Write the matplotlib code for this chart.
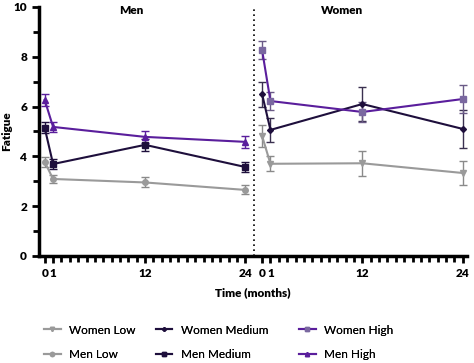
import matplotlib
matplotlib.use("Agg")
import matplotlib.pyplot as plt
from matplotlib.ticker import MultipleLocator, FixedLocator
from matplotlib.lines import Line2D

plt.rcParams['font.family'] = ['Lato', 'DejaVu Sans']

months = [0, 1, 12, 24]
women_offset = 26

men_low = [3.77, 3.09, 2.95, 2.65]
men_low_err = [0.2, 0.15, 0.2, 0.18]
men_medium = [5.14, 3.69, 4.46, 3.57]
men_medium_err = [0.22, 0.2, 0.25, 0.22]
men_high = [6.26, 5.18, 4.78, 4.58]
men_high_err = [0.25, 0.2, 0.25, 0.25]

women_low = [4.82, 3.7, 3.72, 3.33]
women_low_err = [0.45, 0.3, 0.5, 0.5]
women_medium = [6.5, 5.06, 6.1, 5.1]
women_medium_err = [0.5, 0.48, 0.7, 0.75]
women_high = [8.27, 6.22, 5.78, 6.3]
women_high_err = [0.36, 0.36, 0.42, 0.58]

tick_labels = ["0", "1", "12", "24", "0", "1", "12", "24"]

GRAY = "#9a9a9a"
DARK = "#1e0f3c"
PURPLE = "#5a1e9c"

fig = plt.figure(figsize=(4.74, 3.63), dpi=100)
ax = fig.add_axes([0.082, 0.295, 0.903, 0.686])

men_x = months
women_x = [m + women_offset for m in months]

def series(x, y, e, color, marker, mfc=None, ecolor=None, ms=4):
    ax.errorbar(x, y, yerr=e, color=color, marker=marker, ms=ms, lw=1.5,
                mfc=mfc or color, mec=mfc or color, ecolor=ecolor or color,
                elinewidth=1.0, capsize=3, capthick=1.0)
    return Line2D([], [], color=color, marker=marker, ms=ms - 1, lw=1.5,
                  mfc=mfc or color, mec=mfc or color)

h_wl = series(women_x, women_low, women_low_err, GRAY, "v", ecolor="#8a8a8a")
h_ml = series(men_x, men_low, men_low_err, GRAY, "o", ecolor="#8a8a8a")
h_wm = series(women_x, women_medium, women_medium_err, DARK, "D", ms=3, ecolor="#3a3050")
h_mm = series(men_x, men_medium, men_medium_err, DARK, "s")
h_wh = series(women_x, women_high, women_high_err, PURPLE, "s", mfc="#7a68a0", ecolor="#6a5a86")
h_mh = series(men_x, men_high, men_high_err, PURPLE, "^")

ax.axvline(25, color="black", ls=(0, (1, 2)), lw=1.2)

ax.set_xlim(-0.7, 50.5)
ax.set_ylim(0, 10)
for s in ["top", "right"]:
    ax.spines[s].set_visible(False)
for s in ["left", "bottom"]:
    ax.spines[s].set_linewidth(2.5)

ax.yaxis.set_major_locator(MultipleLocator(2))
ax.yaxis.set_minor_locator(MultipleLocator(1))
ax.set_xticks(men_x + women_x)
ax.set_xticklabels(tick_labels)
minor = [m for m in range(0, 25)] + [m + women_offset for m in range(0, 25)]
ax.xaxis.set_minor_locator(FixedLocator(minor))
ax.tick_params(axis="both", which="major", width=2, length=5, labelsize=8.5)
ax.tick_params(axis="both", which="minor", width=2, length=4)
for lab in ax.get_xticklabels() + ax.get_yticklabels():
    lab.set_fontweight("heavy")

ax.set_ylabel("Fatigue", fontsize=8.5, fontweight="heavy")
ax.yaxis.set_label_coords(-0.063, 0.5)
ax.set_xlabel("Time (months)", fontsize=8.5, fontweight="heavy")
ax.xaxis.set_label_coords(0.5, -0.125)
ax.text(10.3, 9.85, "Men", ha="center", va="center", fontsize=8.5, fontweight="heavy")
ax.text(35.6, 9.85, "Women", ha="center", va="center", fontsize=8.5, fontweight="heavy")

cols = [([h_wl, h_ml], ["Women Low", "Men Low"], 0.083),
        ([h_wm, h_mm], ["Women Medium", "Men Medium"], 0.319),
        ([h_wh, h_mh], ["Women High", "Men High"], 0.621)]
for hs, ls, x0 in cols:
    leg = fig.legend(hs, ls, loc="lower left", bbox_to_anchor=(x0, -0.005),
                     frameon=False, fontsize=8.5, handlelength=1.4,
                     labelspacing=1.15, handletextpad=0.7, borderaxespad=0.0)
    fig.add_artist(leg)

fig.savefig("out.png", dpi=100)
